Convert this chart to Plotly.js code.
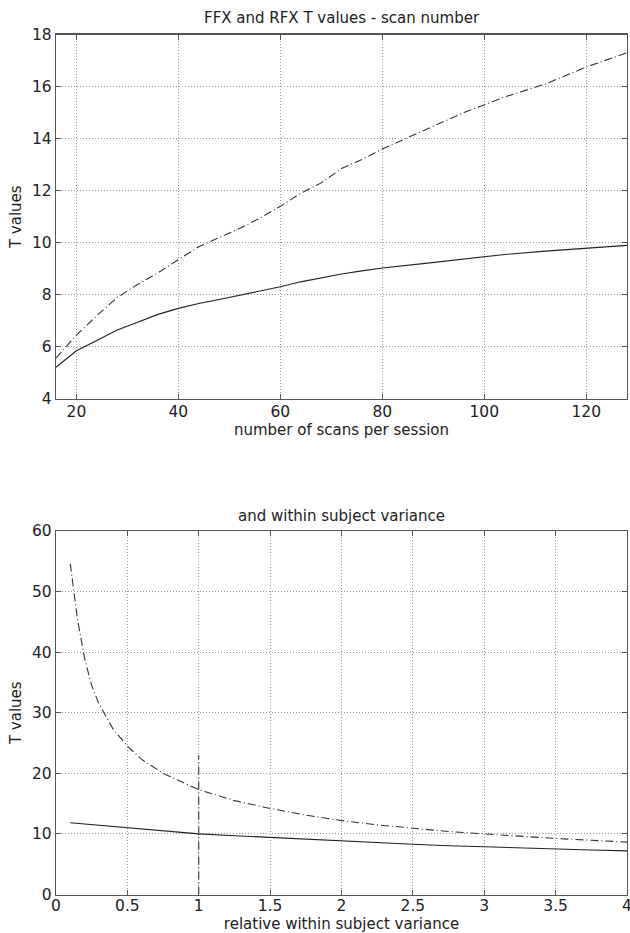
<!DOCTYPE html>
<html>
<head>
<meta charset="utf-8">
<script src="https://cdn.plot.ly/plotly-3.0.1.min.js"></script>
<style>html,body{margin:0;padding:0;background:#fff;}#chart{width:630px;height:933px;}</style>
</head>
<body>
<div id="chart"></div>
<script>
// Top panel: T values vs number of scans per session
const scans = [16,20,24,28,32,36,40,44,48,52,56,60,64,68,72,76,80,88,96,104,112,120,128];
const scansDashDot = [5.57,6.45,7.2,7.9,8.4,8.85,9.35,9.85,10.2,10.55,10.95,11.4,11.9,12.3,12.85,13.2,13.6,14.3,15.0,15.6,16.1,16.75,17.3];
const scansSolid = [5.22,5.85,6.25,6.65,6.95,7.25,7.48,7.67,7.82,7.98,8.15,8.31,8.5,8.65,8.8,8.92,9.03,9.2,9.38,9.55,9.68,9.8,9.9];

// Bottom panel: T values vs relative within subject variance
const variance = [0.1,0.15,0.2,0.25,0.3,0.4,0.5,0.6,0.75,1,1.25,1.5,1.75,2,2.25,2.5,2.75,3,3.25,3.5,3.75,4];
const varDashDot = [54.6,45.5,39,34.5,31.5,27.3,24.5,22.3,20.0,17.3,15.5,14.2,13.1,12.2,11.5,10.9,10.4,10.0,9.6,9.25,8.95,8.65];
const varSolid = [11.85,11.75,11.6,11.5,11.4,11.2,11.0,10.8,10.5,10.0,9.7,9.4,9.1,8.8,8.55,8.3,8.05,7.85,7.65,7.5,7.35,7.2];
const markerX = [1,1];
const markerY = [0,23];

const topTicksX = [20,40,60,80,100,120];
const topTicksY = [4,6,8,10,12,14,16,18];
const botTicksX = [0,0.5,1,1.5,2,2.5,3,3.5,4];
const botTickText = ['0','0.5','1','1.5','2','2.5','3','3.5','4'];
const botTicksY = [0,10,20,30,40,50,60];

const titles = {
  top: 'FFX and RFX T values - scan number',
  bottom: 'and within subject variance',
  topX: 'number of scans per session',
  bottomX: 'relative within subject variance',
  y: 'T values'
};

const FONT = 'DejaVu Sans, sans-serif';
const H = 933;
const py = p => 1 - p / H;

const lineW = 1.1;
const dd = '8px,3px,1px,3px';
const traces = [
  {x: scans, y: scansDashDot, xaxis: 'x', yaxis: 'y', mode: 'lines', line: {color: '#333', width: lineW, dash: dd}},
  {x: scans, y: scansSolid, xaxis: 'x', yaxis: 'y', mode: 'lines', line: {color: '#222', width: lineW}},
  {x: variance, y: varDashDot, xaxis: 'x2', yaxis: 'y2', mode: 'lines', line: {color: '#333', width: lineW, dash: dd}},
  {x: variance, y: varSolid, xaxis: 'x2', yaxis: 'y2', mode: 'lines', line: {color: '#222', width: lineW}},
  {x: markerX, y: markerY, xaxis: 'x2', yaxis: 'y2', mode: 'lines', line: {color: '#333', width: lineW, dash: dd}}
];

const axisBase = {
  showline: true, linecolor: '#555', linewidth: 1.2, mirror: 'ticks',
  ticks: 'inside', ticklen: 5, tickcolor: '#555',
  showgrid: true, gridcolor: '#999', griddash: '1px,2px', gridwidth: 1,
  zeroline: false, tickfont: {family: FONT, size: 15.5, color: '#222'},
  ticklabeloverflow: 'allow'
};
const titleFont = {family: FONT, size: 15, color: '#222'};

const layout = {
  width: 630, height: 933,
  margin: {l: 56, r: 3, t: 0, b: 0},
  paper_bgcolor: '#fff', plot_bgcolor: '#fff',
  showlegend: false,
  xaxis: Object.assign({}, axisBase, {domain: [0, 1], anchor: 'y', range: [16, 128], tickvals: topTicksX,
    ticklabelstandoff: -2, title: {text: titles.topX, font: titleFont, standoff: 0}}),
  yaxis: Object.assign({}, axisBase, {domain: [py(399), py(34.5)], anchor: 'x', range: [4, 18], tickvals: topTicksY,
    title: {text: titles.y, font: titleFont, standoff: 6}}),
  xaxis2: Object.assign({}, axisBase, {domain: [0, 1], anchor: 'y2', range: [0, 4], tickvals: botTicksX, ticktext: botTickText,
    ticklabelstandoff: -3, title: {text: titles.bottomX, font: titleFont, standoff: 0}}),
  yaxis2: Object.assign({}, axisBase, {domain: [py(894.5), py(531)], anchor: 'x2', range: [0, 60], tickvals: botTicksY,
    title: {text: titles.y, font: titleFont, standoff: 6}}),
  annotations: [
    {text: titles.top, xref: 'paper', yref: 'paper', x: 0.5, y: py(18), xanchor: 'center', yanchor: 'middle', showarrow: false,
      font: titleFont},
    {text: titles.bottom, xref: 'paper', yref: 'paper', x: 0.5, y: py(516), xanchor: 'center', yanchor: 'middle', showarrow: false,
      font: titleFont}
  ]
};

Plotly.newPlot('chart', traces, layout, {displayModeBar: false, staticPlot: true});
</script>
</body>
</html>
